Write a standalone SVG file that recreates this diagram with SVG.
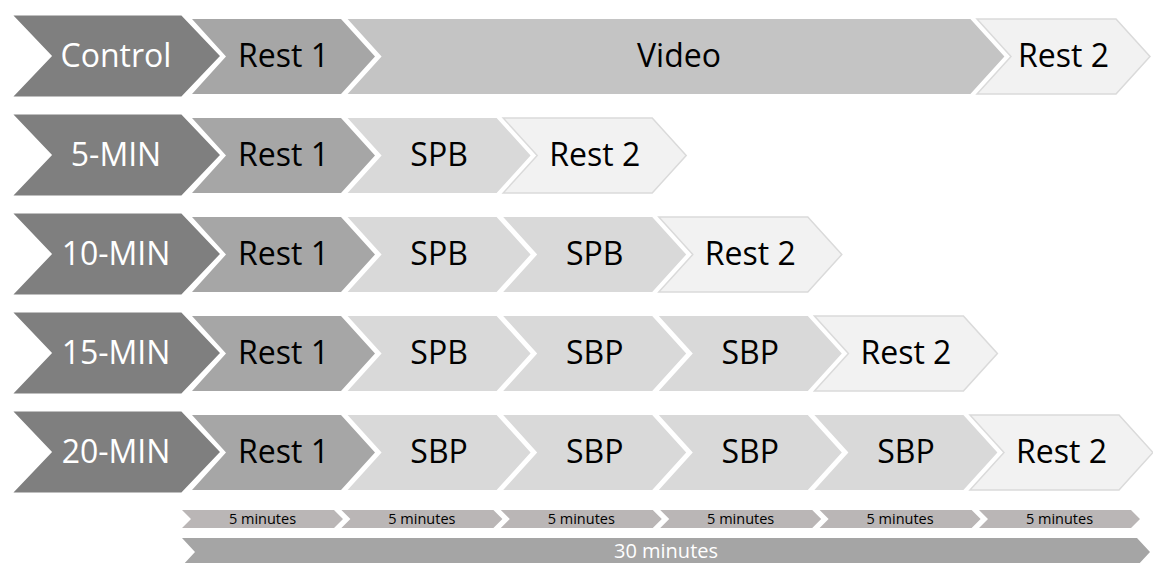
<svg xmlns="http://www.w3.org/2000/svg" xmlns:xlink="http://www.w3.org/1999/xlink" width="1153" height="563" viewBox="0 0 1153 563">
  <style>
    text { font-family: "Open Sans", Lato, "Liberation Sans", sans-serif; text-anchor: middle; }
    .lbl { font-size: 32px; fill: #000; }
    .head { font-size: 32px; fill: #fff; }
    .ctl { fill: #7f7f7f; stroke: #fff; stroke-width: 3; stroke-linejoin: miter; }
    .r1 { fill: #a6a6a6; }
    .vid { fill: #c4c4c4; }
    .sp { fill: #d9d9d9; }
    .r2 { fill: #f2f2f2; stroke: #dadada; stroke-width: 1.5; }
    .min5 { fill: #bab6b6; }
    .min30 { fill: #a5a5a5; }
    .small { font-size: 14.5px; fill: #000; }
    .big { font-size: 20px; fill: #fff; }
  </style>
  <defs>
    <!-- row header chevron, 212 x 84 -->
    <path id="hdr" d="M0,0 H172 L212,42 L172,84 H0 L40,42 Z"/>
    <!-- standard step chevron, 183 x 75 -->
    <path id="step" d="M0,0 H149 L183,37.5 L149,75 H0 L34,37.5 Z"/>
    <!-- timeline chevron, 161 x 18 -->
    <path id="tick" d="M0,0 H152 L161,9 L152,18 H0 L9,9 Z"/>
  </defs>

  <!-- Control row -->
  <g id="row-control">
    <use xlink:href="#step" class="r1" x="192" y="19"/>
    <text class="lbl" x="283.5" y="67">Rest 1</text>
    <use xlink:href="#hdr" class="ctl" x="10" y="14"/>
    <text class="head" x="116" y="67">Control</text>
    <path class="vid" d="M347.6,19 H970.4 L1004.4,56.5 L970.4,94 H347.6 L381.6,56.5 Z"/>
    <text class="lbl" x="679" y="67">Video</text>
    <path class="r2" d="M977,19 H1116 L1150,56.5 L1116,94 H977 L1011,56.5 Z"/>
    <text class="lbl" x="1063.5" y="67">Rest 2</text>
  </g>

  <!-- 5-MIN row -->
  <g id="row-5min">
    <use xlink:href="#step" class="r1" x="192" y="118"/>
    <text class="lbl" x="283.5" y="166">Rest 1</text>
    <use xlink:href="#hdr" class="ctl" x="10" y="113"/>
    <text class="head" x="116" y="166">5-MIN</text>
    <use xlink:href="#step" class="sp" x="347.6" y="118"/>
    <text class="lbl" x="439.1" y="166">SPB</text>
    <use xlink:href="#step" class="r2" x="503.2" y="118"/>
    <text class="lbl" x="594.7" y="166">Rest 2</text>
  </g>

  <!-- 10-MIN row -->
  <g id="row-10min">
    <use xlink:href="#step" class="r1" x="192" y="217"/>
    <text class="lbl" x="283.5" y="265">Rest 1</text>
    <use xlink:href="#hdr" class="ctl" x="10" y="212"/>
    <text class="head" x="116" y="265">10-MIN</text>
    <use xlink:href="#step" class="sp" x="347.6" y="217"/>
    <text class="lbl" x="439.1" y="265">SPB</text>
    <use xlink:href="#step" class="sp" x="503.2" y="217"/>
    <text class="lbl" x="594.7" y="265">SPB</text>
    <use xlink:href="#step" class="r2" x="658.8" y="217"/>
    <text class="lbl" x="750.3" y="265">Rest 2</text>
  </g>

  <!-- 15-MIN row -->
  <g id="row-15min">
    <use xlink:href="#step" class="r1" x="192" y="316"/>
    <text class="lbl" x="283.5" y="364">Rest 1</text>
    <use xlink:href="#hdr" class="ctl" x="10" y="311"/>
    <text class="head" x="116" y="364">15-MIN</text>
    <use xlink:href="#step" class="sp" x="347.6" y="316"/>
    <text class="lbl" x="439.1" y="364">SPB</text>
    <use xlink:href="#step" class="sp" x="503.2" y="316"/>
    <text class="lbl" x="594.7" y="364">SBP</text>
    <use xlink:href="#step" class="sp" x="658.8" y="316"/>
    <text class="lbl" x="750.3" y="364">SBP</text>
    <use xlink:href="#step" class="r2" x="814.4" y="316"/>
    <text class="lbl" x="905.9" y="364">Rest 2</text>
  </g>

  <!-- 20-MIN row -->
  <g id="row-20min">
    <use xlink:href="#step" class="r1" x="192" y="415"/>
    <text class="lbl" x="283.5" y="463">Rest 1</text>
    <use xlink:href="#hdr" class="ctl" x="10" y="410"/>
    <text class="head" x="116" y="463">20-MIN</text>
    <use xlink:href="#step" class="sp" x="347.6" y="415"/>
    <text class="lbl" x="439.1" y="463">SBP</text>
    <use xlink:href="#step" class="sp" x="503.2" y="415"/>
    <text class="lbl" x="594.7" y="463">SBP</text>
    <use xlink:href="#step" class="sp" x="658.8" y="415"/>
    <text class="lbl" x="750.3" y="463">SBP</text>
    <use xlink:href="#step" class="sp" x="814.4" y="415"/>
    <text class="lbl" x="905.9" y="463">SBP</text>
    <use xlink:href="#step" class="r2" x="970" y="415"/>
    <text class="lbl" x="1061.5" y="463">Rest 2</text>
  </g>

  <!-- 5-minute timeline ticks -->
  <g id="timeline-5min">
    <use xlink:href="#tick" class="min5" x="182" y="510"/>
    <text class="small" x="262.5" y="524">5 minutes</text>
    <use xlink:href="#tick" class="min5" x="341.4" y="510"/>
    <text class="small" x="421.9" y="524">5 minutes</text>
    <use xlink:href="#tick" class="min5" x="500.8" y="510"/>
    <text class="small" x="581.3" y="524">5 minutes</text>
    <use xlink:href="#tick" class="min5" x="660.2" y="510"/>
    <text class="small" x="740.7" y="524">5 minutes</text>
    <use xlink:href="#tick" class="min5" x="819.6" y="510"/>
    <text class="small" x="900.1" y="524">5 minutes</text>
    <use xlink:href="#tick" class="min5" x="979" y="510"/>
    <text class="small" x="1059.5" y="524">5 minutes</text>
  </g>

  <!-- total duration bar -->
  <g id="timeline-30min">
    <path class="min30" d="M182,538 H1137 L1150,552 L1137,566 H182 L195,552 Z"/>
    <text class="big" x="666" y="558">30 minutes</text>
  </g>
</svg>
